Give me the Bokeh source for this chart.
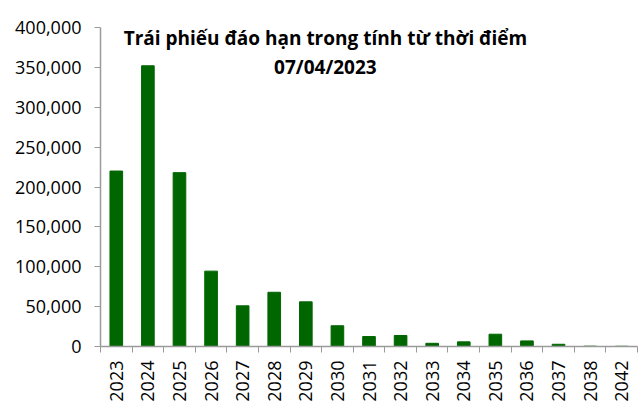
from bokeh.plotting import figure
from bokeh.models import FixedTicker, NumeralTickFormatter, Label, Range1d, ColumnDataSource
from bokeh.embed import file_html
from bokeh.resources import INLINE

years = ["2023", "2024", "2025", "2026", "2027", "2028", "2029", "2030", "2031",
         "2032", "2033", "2034", "2035", "2036", "2037", "2038", "2042"]
values = [220000, 352000, 218000, 94500, 51000, 68000, 56000, 26000, 12500,
          13800, 4000, 5800, 15400, 7000, 2800, 400, 300]
title_lines = ["Trái phiếu đáo hạn trong tính từ thời điểm", "07/04/2023"]

n = len(years)
centers = [i + 0.5 for i in range(n)]
bounds = [float(i) for i in range(n + 1)]

src = ColumnDataSource(dict(x=centers, top=values, year=years))

p = figure(width=640, height=420, output_backend="svg", toolbar_location=None,
           x_range=Range1d(0, n), y_range=Range1d(0, 400000),
           min_border_left=100, min_border_right=3, min_border_top=27, min_border_bottom=74)
p.outline_line_color = None
p.xgrid.visible = False
p.ygrid.visible = False
p.background_fill_color = "white"

p.vbar(x="x", top="top", width=0.4, source=src, fill_color="#006600", line_color="#006600")

axis_color = "#9a9a9a"
font = "Open Sans"

xa = p.xaxis[0]
xa.ticker = FixedTicker(ticks=centers, minor_ticks=bounds)
xa.major_label_overrides = {c: y for c, y in zip(centers, years)}
xa.major_tick_out = 0
xa.major_tick_in = 0
xa.minor_tick_out = 6
xa.minor_tick_in = 0
xa.minor_tick_line_color = axis_color
xa.axis_line_color = axis_color
xa.axis_line_width = 1.5
xa.major_label_orientation = 3.14159265 / 2
xa.major_label_text_font = font
xa.major_label_text_font_size = "18px"
xa.major_label_text_color = "black"
xa.major_label_standoff = 8

ya = p.yaxis[0]
ya.ticker = FixedTicker(ticks=list(range(0, 400001, 50000)))
ya.formatter = NumeralTickFormatter(format="0,0")
ya.major_tick_out = 6
ya.major_tick_in = 0
ya.minor_tick_out = 0
ya.minor_tick_in = 0
ya.major_tick_line_color = axis_color
ya.axis_line_color = axis_color
ya.axis_line_width = 1.5
ya.major_label_text_font = font
ya.major_label_text_font_size = "18px"
ya.major_label_text_color = "black"
ya.major_label_standoff = 13

for txt, yv in zip(title_lines, [386300, 350300]):
    p.add_layout(Label(x=7.12, y=yv, text=txt, text_align="center", text_baseline="alphabetic",
                       text_font=font, text_font_style="bold", text_font_size="19px",
                       text_color="black"))

open("out.html", "w").write(file_html(p, INLINE))
